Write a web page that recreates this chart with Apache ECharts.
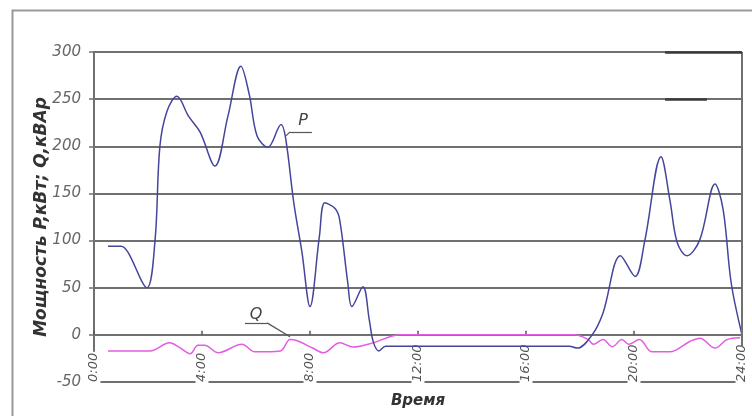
<!DOCTYPE html>
<html>
<head>
<meta charset="utf-8">
<script src="https://cdn.jsdelivr.net/npm/echarts@6/dist/echarts.min.js"></script>
<style>html,body{margin:0;padding:0;background:#fff}#c{width:752px;height:416px}</style>
</head>
<body>
<div id="c"></div>
<script>
// Time (hours) and active power P, kW
var pData = [
  [0.52,94],[1.0,94],[1.25,88],[1.96,50],[2.26,100],[2.44,200],[2.7,237],[3.07,253],[3.5,232],[3.93,215],
  [4.48,179],[4.96,232],[5.44,285],[5.75,255],[6.04,211],[6.44,199],[6.93,223],[7.1,208],[7.4,140],[7.7,88],
  [8.0,30],[8.35,105],[8.55,140],[8.93,134],[9.1,122],[9.4,55],[9.55,30],[9.96,51],[10.2,15],[10.35,-8],
  [10.55,-17],[10.8,-12],[11.0,-12],[17.6,-12],[17.9,-14],[18.45,0],[18.85,23],[19.5,84],[20.04,62],[20.4,100],
  [21.0,189],[21.33,143],[21.6,98],[21.96,84],[22.44,101],[23.0,160],[23.3,133],[23.6,55],[24.0,0]
];
// Time (hours) and reactive power Q, kVAr
var qData = [
  [0.52,-17],[2.07,-17],[2.8,-8.5],[3.15,-13],[3.56,-20],[3.85,-11],[4.1,-11],[4.6,-19],[5.48,-10],[5.96,-18],
  [6.9,-17],[7.26,-5],[7.5,-6],[8.1,-14],[8.5,-19],[9.1,-8.5],[9.6,-13],[10.33,-8.5],[10.96,-2],[11.3,0],
  [17.8,0],[18.3,-5],[18.5,-10],[18.85,-5],[19.2,-12.5],[19.55,-5],[19.8,-10],[20.2,-5],[20.67,-18],[21.33,-18],
  [22.07,-7],[22.44,-3.5],[23.0,-14],[23.44,-5],[23.93,-3]
];
var xTickLabels = ['0:00','4:00','8:00','12:00','16:00','20:00','24:00'];
var yTicks = [-50,0,50,100,150,200,250,300];
// annotation anchors (hours, value)
var pLabelPos = [7.74,227];
var pLeader = [[7.11,211],[7.26,215.3],[8.07,215.3]];
var qLabelPos = [6.0,21];
var qLeader = [[7.26,-2],[6.41,12.7],[5.59,12.7]];

var FONT = 'DejaVu Sans';
var chart = echarts.init(document.getElementById('c'), null, {renderer:'canvas'});
function seg(pts){var r=[];for(var i=0;i<pts.length-1;i++){r.push([{coord:pts[i]},{coord:pts[i+1]}]);}return r;}
var gridColor = '#707070';
chart.setOption({
  animation:false,
  backgroundColor:'#fff',
  graphic:[{type:'rect',left:10,top:8,shape:{width:800,height:500},style:{fill:'none',stroke:'#999',lineWidth:2},z:-10}],
  grid:{left:94,right:10,top:52,bottom:34,containLabel:false},
  xAxis:[{
    type:'value',min:0,max:24,interval:4,position:'bottom',
    axisLine:{onZero:false,show:true,lineStyle:{color:gridColor,width:2}},
    axisTick:{show:false},splitLine:{show:false},
    axisLabel:{inside:true,rotate:90,margin:-3,color:'#555',fontFamily:FONT,fontStyle:'italic',fontSize:13,
      backgroundColor:'#fff',padding:[0,1,0,3],
      formatter:function(v){return xTickLabels[Math.round(v/4)];}},
    name:'Время',nameLocation:'middle',nameGap:12,nameMoveOverlap:false,
    nameTextStyle:{color:'#333',fontFamily:FONT,fontStyle:'italic',fontWeight:'bold',fontSize:15,verticalAlign:'top'}
  },{
    type:'value',min:0,max:24,interval:4,position:'bottom',
    axisLine:{onZero:true,show:true,lineStyle:{color:gridColor,width:2}},
    axisTick:{show:true,inside:true,length:4,lineStyle:{color:'#555',width:1.5}},
    axisLabel:{show:false},splitLine:{show:false}
  }],
  yAxis:{
    type:'value',min:-50,max:300,interval:50,
    axisLine:{show:true,lineStyle:{color:gridColor,width:2}},
    axisTick:{show:true,length:5,lineStyle:{color:gridColor,width:1.5}},
    splitLine:{show:true,lineStyle:{color:gridColor,width:2}},
    axisLabel:{color:'#666',fontFamily:FONT,fontStyle:'italic',fontSize:15,margin:13,
      formatter:function(v){return yTicks.indexOf(v)>=0?String(v):'';}},
    name:'Мощность P,кВт; Q,кВАр',nameLocation:'middle',nameGap:44,nameMoveOverlap:false,
    nameTextStyle:{color:'#333',fontFamily:FONT,fontStyle:'italic',fontWeight:'bold',fontSize:17}
  },
  series:[
    {type:'line',name:'Q',xAxisIndex:0,data:qData,smooth:0.35,showSymbol:false,
      lineStyle:{color:'#e45ce4',width:1.5},z:3},
    {type:'line',name:'P',xAxisIndex:0,data:pData,smooth:0.35,showSymbol:false,
      lineStyle:{color:'#45459c',width:1.5},z:4},
    {type:'line',name:'ann',xAxisIndex:0,data:[],silent:true,z:5,
      markLine:{symbol:'none',silent:true,label:{show:false},
        lineStyle:{color:'#555',width:1.2,type:'solid'},
        data:seg(pLeader).concat(seg(qLeader)).concat([
          [{coord:[24,-13],lineStyle:{color:gridColor,width:2}},{coord:[24,300]}],
          [{coord:[21.15,300],lineStyle:{color:'#3a3a3a',width:2.5}},{coord:[24,300]}],
          [{coord:[21.15,250],lineStyle:{color:'#3a3a3a',width:2.5}},{coord:[22.7,250]}]
        ])},
      markPoint:{symbol:'circle',symbolSize:0,silent:true,
        label:{show:true,position:'inside',color:'#444',fontFamily:FONT,fontStyle:'italic',fontSize:16},
        data:[{coord:pLabelPos,label:{formatter:'P'}},{coord:qLabelPos,label:{formatter:'Q'}}]}
    }
  ]
});
</script>
</body>
</html>
